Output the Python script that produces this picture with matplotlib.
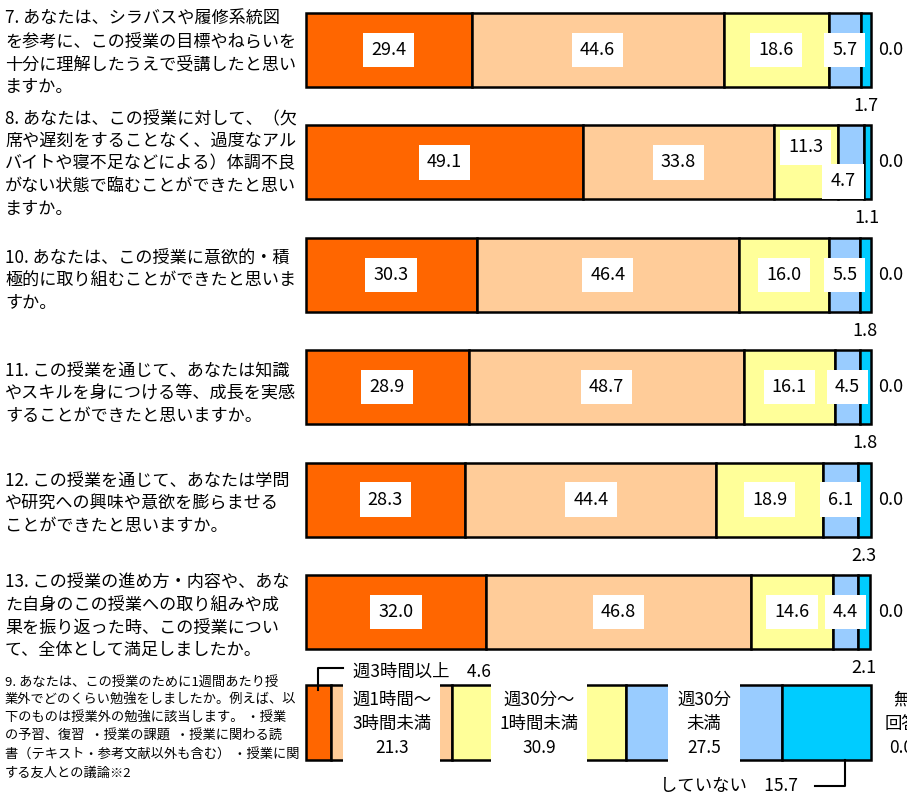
import matplotlib
matplotlib.use("Agg")
import matplotlib.pyplot as plt
import numpy as np

plt.rcParams['font.family'] = ['Noto Sans CJK JP', 'DejaVu Sans']

# ---------------- data ----------------
questions = [
    "7. あなたは、シラバスや履修系統図\nを参考に、この授業の目標やねらいを\n十分に理解したうえで受講したと思い\nますか。",
    "8. あなたは、この授業に対して、（欠\n席や遅刻をすることなく、過度なアル\nバイトや寝不足などによる）体調不良\nがない状態で臨むことができたと思い\nますか。",
    "10. あなたは、この授業に意欲的・積\n極的に取り組むことができたと思いま\nすか。",
    "11. この授業を通じて、あなたは知識\nやスキルを身につける等、成長を実感\nすることができたと思いますか。",
    "12. この授業を通じて、あなたは学問\nや研究への興味や意欲を膨らませる\nことができたと思いますか。",
    "13. この授業の進め方・内容や、あな\nた自身のこの授業への取り組みや成\n果を振り返った時、この授業につい\nて、全体として満足しましたか。",
]
seg1 = [29.4, 49.1, 30.3, 28.9, 28.3, 32.0]
seg2 = [44.6, 33.8, 46.4, 48.7, 44.4, 46.8]
seg3 = [18.6, 11.3, 16.0, 16.1, 18.9, 14.6]
seg4 = [5.7, 4.7, 5.5, 4.5, 6.1, 4.4]
seg5 = [1.7, 1.1, 1.8, 1.8, 2.3, 2.1]
no_answer = [0.0, 0.0, 0.0, 0.0, 0.0, 0.0]

q9_text = ("9. あなたは、この授業のために1週間あたり授\n業外でどのくらい勉強をしましたか。例えば、以\n"
           "下のものは授業外の勉強に該当します。 ・授業\nの予習、復習  ・授業の課題  ・授業に関わる読\n"
           "書（テキスト・参考文献以外も含む） ・授業に関\nする友人との議論※2")
q9_cats = ["週3時間以上", "週1時間～\n3時間未満", "週30分～\n1時間未満", "週30分\n未満", "していない"]
q9_vals = [4.6, 21.3, 30.9, 27.5, 15.7]
q9_noans_label = "無\n回答"
q9_noans = 0.0

colors = ['#FF6600', '#FFCC99', '#FFFF99', '#99CCFF', '#00CCFF']

# ---------------- layout ----------------
W, H = 907, 794
fig = plt.figure(figsize=(W / 100, H / 100), dpi=100)
fx = lambda px: px / W
fy = lambda py: 1 - py / H

# question text lines (first line centre y, spacing)
q_first = [19, 118, 258, 371, 481, 582]
q_step = 22.7
for txt, y0 in zip(questions, q_first):
    for k, line in enumerate(txt.split("\n")):
        fig.text(fx(5), fy(y0 + k * q_step), line, fontsize=12.3, va='center', ha='left')

for k, line in enumerate(q9_text.split("\n")):
    fig.text(fx(5), fy(682 + k * 18.2), line, fontsize=9.5, va='center', ha='left')

# main axes
x0, x1 = 305.5, 870.5
ax = fig.add_axes([fx(x0), fy(668), (x1 - x0) / W, 668 / H])
ax.set_xlim(0, 100)
ax.set_ylim(5.498, -0.445)
ax.axis('off')

data = np.array([seg1, seg2, seg3, seg4, seg5]).T
ypos = np.arange(len(questions))
bh = 74 / 112.4
lefts = np.zeros(len(questions))
box = dict(boxstyle='square,pad=0.45', fc='white', ec='none')
label_offsets = {(1, 2): (0, 15), (1, 3): (-8, -19)}
for j in range(5):
    ax.barh(ypos, data[:, j], left=lefts, height=bh, color=colors[j],
            edgecolor='black', linewidth=1.8, clip_on=False)
    for i in range(len(questions)):
        v = data[i, j]
        cx = lefts[i] + v / 2
        if j < 4:
            dx, dy = label_offsets.get((i, j), (0, 0))
            ax.annotate(f"{v:.1f}", xy=(cx, ypos[i]), xytext=(dx, dy), textcoords='offset pixels',
                        ha='center', va='center', fontsize=13, bbox=box, annotation_clip=False)
        else:
            ax.annotate(f"{v:.1f}", xy=(cx, ypos[i] + bh / 2), xytext=(0, -19), textcoords='offset pixels',
                        ha='center', va='center', fontsize=13, annotation_clip=False)
    lefts += data[:, j]

for i in range(len(questions)):
    ax.annotate(f"{no_answer[i]:.1f}", xy=(100, ypos[i]), xytext=(8, 0), textcoords='offset pixels',
                ha='left', va='center', fontsize=13, annotation_clip=False)

# Q9 axes
ax2 = fig.add_axes([fx(x0), fy(797.5), (x1 - x0) / W, 150 / H])
ax2.set_xlim(0, 100)
ax2.set_ylim(1, -1)
ax2.axis('off')
left = 0.0
centers = []
for j, v in enumerate(q9_vals):
    ax2.barh([0], [v], left=left, height=1.0, color=colors[j], edgecolor='black',
             linewidth=1.8, clip_on=False)
    centers.append(left + v / 2)
    left += v

box2 = dict(boxstyle='square,pad=0.5', fc='white', ec='none')
for j in (1, 2, 3):
    ax2.text(centers[j], 0.02, f"{q9_cats[j]}\n{q9_vals[j]:.1f}", ha='center', va='center',
             fontsize=12.5, linespacing=1.45, bbox=box2)
ax2.annotate(f"{q9_noans_label}\n{q9_noans:.1f}", xy=(100, 0.02), xytext=(31, 0), textcoords='offset pixels',
             ha='center', va='center', fontsize=12.5, linespacing=1.45, annotation_clip=False)

# leader for first category (above)
c0 = centers[0]
ax2.plot([c0, c0, c0 + 4.4], [-0.43, -0.727, -0.727], color='black', lw=1.5, clip_on=False)
ax2.text(c0 + 6.1, -0.673, f"{q9_cats[0]}　{q9_vals[0]:.1f}", ha='left', va='center', fontsize=12.5)
# leader for last category (below)
c4 = 95.5
ax2.plot([c4, c4, c4 - 5.3], [0.5, 0.84, 0.84], color='black', lw=1.5, clip_on=False)
ax2.text(c4 - 8.3, 0.84, f"{q9_cats[4]}　{q9_vals[4]:.1f}", ha='right', va='center', fontsize=12.5)

fig.savefig("out.png", dpi=100)
